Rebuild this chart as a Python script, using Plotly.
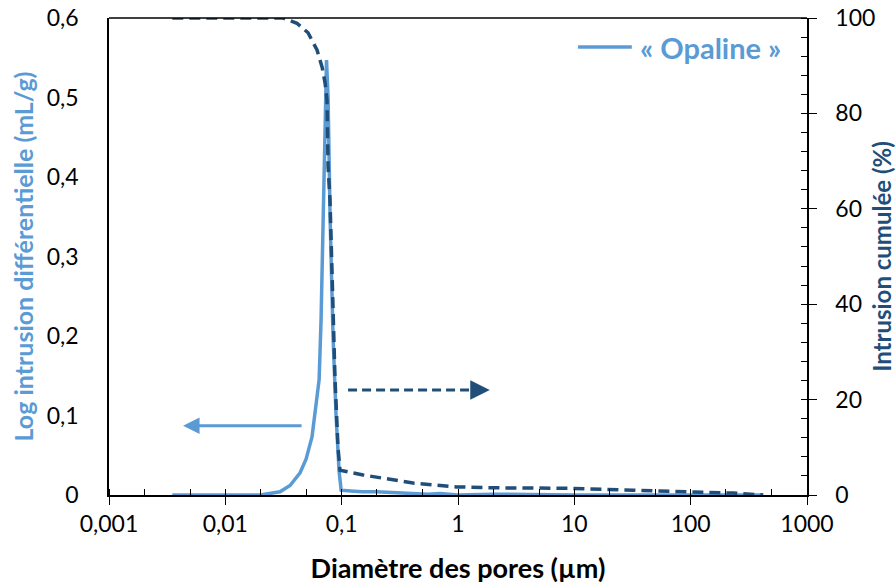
import math
import plotly.graph_objects as go

# ---- data ----
diff_x = [0.0035, 0.005, 0.01, 0.02, 0.0295, 0.036, 0.0439, 0.0494, 0.0556, 0.0614,
          0.064, 0.0665, 0.0692, 0.072, 0.0741, 0.0764, 0.0795, 0.0843, 0.0895, 0.095,
          0.099, 0.12, 0.15, 0.2, 0.3, 0.45, 0.55, 0.7, 1.0, 2.0, 5.0, 10, 50, 100, 200, 420]
diff_y = [0.0, 0.0, 0.0, 0.0, 0.004, 0.012, 0.028, 0.045, 0.073, 0.12,
          0.145, 0.22, 0.35, 0.5, 0.547, 0.5, 0.35, 0.2, 0.1, 0.03,
          0.006, 0.005, 0.004, 0.004, 0.003, 0.002, 0.001, 0.002, 0.0, 0.001, 0.0, 0.0, 0.0, 0.0, 0.0, 0.0]

cum_x = [0.0035, 0.01, 0.0313, 0.0413, 0.0514, 0.0614, 0.0679, 0.072, 0.0748, 0.0764,
         0.0794, 0.0877, 0.093, 0.0968, 0.153, 0.411, 0.98, 2.17, 9.2, 32, 121, 232, 420]
cum_y = [100, 100, 100, 98.9, 96.9, 93.3, 89.7, 86.4, 82.8, 68.8,
         61.8, 24.1, 10.0, 5.2, 4.2, 2.5, 1.7, 1.5, 1.4, 1.0, 0.7, 0.4, 0.0]

x_tickvals = [0.001, 0.01, 0.1, 1, 10, 100, 1000]
x_ticktext = ["0,001", "0,01", "0,1", "1", "10", "100", "1000"]
y1_tickvals = [0, 0.1, 0.2, 0.3, 0.4, 0.5, 0.6]
y1_ticktext = ["0", "0,1", "0,2", "0,3", "0,4", "0,5", "0,6"]
y2_tickvals = [0, 20, 40, 60, 80, 100]

series_name = "« Opaline »"

# arrow endpoints (data units)
arrow_left = dict(x0=0.0466, x1=0.00433, y=0.087)
arrow_right = dict(x0=0.1135, x1=1.49, y=22)

LIGHT = "#5B9BD5"
DARK = "#1F4E79"
FONT = "Lato, 'Open Sans', sans-serif"

fig = go.Figure()
fig.add_trace(go.Scatter(x=diff_x, y=diff_y, mode="lines", name=series_name,
                         line=dict(color=LIGHT, width=3.5), yaxis="y", showlegend=False))
fig.add_trace(go.Scatter(x=cum_x, y=cum_y, mode="lines", name="Intrusion cumulée",
                         line=dict(color=DARK, width=3.5, dash="11px,6px"),
                         yaxis="y2", showlegend=False))

# dashed arrow (right)
fig.add_trace(go.Scatter(x=[arrow_right["x0"], arrow_right["x1"]],
                         y=[arrow_right["y"], arrow_right["y"]], mode="lines",
                         line=dict(color=DARK, width=3, dash="9px,5px"),
                         yaxis="y2", showlegend=False, hoverinfo="skip"))
lx1 = math.log10(arrow_right["x1"])
fig.add_annotation(x=lx1 + 0.1, y=arrow_right["y"], ax=lx1 - 0.02, ay=arrow_right["y"],
                   xref="x", yref="y2", axref="x", ayref="y2",
                   showarrow=True, arrowhead=2, arrowsize=1.3, arrowwidth=3,
                   arrowcolor=DARK, text="")
# solid arrow (left)
fig.add_annotation(x=math.log10(arrow_left["x1"]), y=arrow_left["y"],
                   ax=math.log10(arrow_left["x0"]), ay=arrow_left["y"],
                   xref="x", yref="y", axref="x", ayref="y",
                   showarrow=True, arrowhead=2, arrowsize=1.1, arrowwidth=3,
                   arrowcolor=LIGHT, text="")

# top frame line
fig.add_shape(type="line", xref="paper", yref="paper", x0=0, x1=1, y0=1, y1=1,
              line=dict(color="black", width=1.5))

# legend (drawn manually to get the long line sample)
fig.add_shape(type="line", xref="paper", yref="paper", x0=0.672, x1=0.749, y0=0.939, y1=0.939,
              line=dict(color=LIGHT, width=3.5))
fig.add_annotation(xref="paper", yref="paper", x=0.758, y=0.939, xanchor="left", yanchor="middle",
                   text="<b>" + series_name + "</b>", showarrow=False,
                   font=dict(size=29, color=LIGHT, family=FONT))

fig.update_layout(
    width=896, height=588,
    margin=dict(l=109, r=89, t=18, b=93),
    paper_bgcolor="white", plot_bgcolor="white",
    font=dict(family=FONT, size=23, color="black"),
    xaxis=dict(type="log", range=[-3, 3], tickvals=x_tickvals, ticktext=x_ticktext,
               automargin=False, ticklabeloverflow="allow",
               showgrid=False, zeroline=False, showline=True, linecolor="black", linewidth=1.5,
               ticks="outside", ticklen=8, tickcolor="black", tickwidth=1.3,
               minor=dict(ticks="inside", ticklen=6, tickcolor="black", tickwidth=1.3, showgrid=False),
               title=dict(text="<b>Diamètre des pores (µm)</b>", font=dict(size=27), standoff=23)),
    yaxis=dict(range=[0, 0.6], tickvals=y1_tickvals, ticktext=y1_ticktext, automargin=False,
               ticklabeloverflow="allow",
               showgrid=False, zeroline=False, showline=True, linecolor="black", linewidth=1.5,
               ticks="", ticklabelstandoff=24,
               title=dict(text="<b>Log intrusion différentielle (mL/g)</b>",
                          font=dict(size=25, color=LIGHT), standoff=6)),
    yaxis2=dict(range=[0, 100], tickvals=y2_tickvals, overlaying="y", side="right", automargin=False,
                ticklabeloverflow="allow",
                showgrid=False, zeroline=False, showline=True, linecolor="black", linewidth=1.5,
                ticks="outside", ticklen=8, tickcolor="black", tickwidth=1.3, ticklabelstandoff=14,
                minor=dict(ticks="inside", ticklen=6, dtick=4, tickcolor="black", tickwidth=1.3),
                title=dict(text="<b>Intrusion cumulée (%)</b>", font=dict(size=24, color=DARK), standoff=0)),
)

fig.write_html("out.html", config={"displayModeBar": False},
               post_script="document.body.style.margin='0';document.body.style.padding='0';")
